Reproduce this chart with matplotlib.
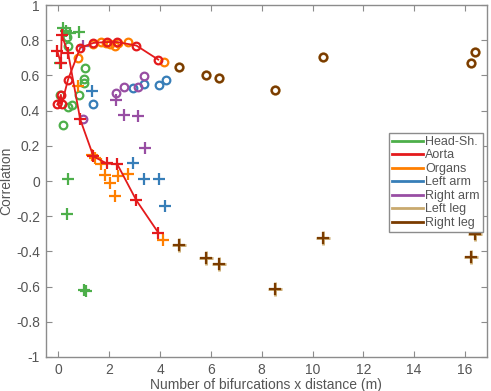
import matplotlib
matplotlib.use("Agg")
import matplotlib.pyplot as plt
from matplotlib.lines import Line2D

plt.rcParams['font.family'] = ['Liberation Sans', 'DejaVu Sans']

# ---- data ----
head_circ_x = [0.07, 0.20, 0.36, 0.55, 0.83, 1.06, 1.01, 1.01, 0.36, 0.33]
head_circ_y = [0.49, 0.316, 0.42, 0.43, 0.49, 0.64, 0.58, 0.56, 0.77, 0.82]
head_plus_x = [0.20, 0.30, 0.46, 0.83, 0.05, 0.36, 0.33, 1.01, 1.07]
head_plus_y = [0.87, 0.855, 0.84, 0.845, 0.67, 0.01, -0.185, -0.62, -0.625]

aorta_x = [-0.04, 0.10, 0.13, 0.38, 0.86, 1.38, 1.90, 2.32, 3.07, 3.93]
aorta_circ_y = [0.435, 0.49, 0.435, 0.577, 0.757, 0.785, 0.79, 0.79, 0.77, 0.69]
aorta_plus_y = [0.737, 0.67, 0.83, 0.73, 0.35, 0.14, 0.10, 0.095, -0.11, -0.293]

organs_circ_x = [0.77, 1.36, 1.67, 1.86, 2.03, 2.22, 2.36, 2.75, 4.16]
organs_circ_y = [0.70, 0.78, 0.79, 0.785, 0.78, 0.766, 0.785, 0.79, 0.677]
organs_plus_x = [0.77, 1.32, 1.45, 1.68, 1.84, 2.03, 2.23, 2.36, 2.74, 4.13]
organs_plus_y = [0.54, 0.146, 0.13, 0.095, 0.035, -0.01, -0.085, 0.03, 0.038, -0.335]

larm_circ_x = [1.36, 2.93, 3.38, 3.96, 4.23]
larm_circ_y = [0.435, 0.526, 0.55, 0.548, 0.577]
larm_plus_x = [1.31, 2.95, 3.38, 3.97, 4.19]
larm_plus_y = [0.51, 0.104, 0.01, 0.01, -0.142]

rarm_circ_x = [0.96, 2.27, 2.58, 3.15, 3.38]
rarm_circ_y = [0.354, 0.50, 0.533, 0.535, 0.595]
rarm_plus_x = [0.96, 2.27, 2.58, 3.15, 3.41]
rarm_plus_y = [0.765, 0.458, 0.375, 0.369, 0.19]

leg_x = [4.74, 5.81, 6.32, 8.54, 10.41, 16.25, 16.41]
leg_circ_y = [0.65, 0.605, 0.586, 0.52, 0.706, 0.668, 0.734]
leg_plus_y = [-0.363, -0.438, -0.472, -0.614, -0.321, -0.429, -0.302]

labels = ['Head-Sh.', 'Aorta', 'Organs', 'Left arm', 'Right arm', 'Left leg', 'Right leg']
colors = ['#4daf4a', '#e41a1c', '#ff7f00', '#377eb8', '#984ea3', '#c9a96e', '#7a3b00']

xticks = [0, 2, 4, 6, 8, 10, 12, 14, 16]
yticks = [-1, -0.8, -0.6, -0.4, -0.2, 0, 0.2, 0.4, 0.6, 0.8, 1]
ytick_labels = ['-1', '-0.8', '-0.6', '-0.4', '-0.2', '0', '0.2', '0.4', '0.6', '0.8', '1']

# ---- figure ----
fig = plt.figure(figsize=(4.91, 3.91), dpi=100)
ax = fig.add_axes([0.093, 0.087, 0.898, 0.900])

def draw(xc, yc, xp, yp, c, line=False):
    ls = '-' if line else 'none'
    ax.plot(xc, yc, color=c, marker='o', ms=5.5, mfc='none', mew=1.6, linestyle=ls, lw=1.3)
    ax.plot(xp, yp, color=c, marker='+', ms=9, mew=1.6, linestyle=ls, lw=1.3)

draw(head_circ_x, head_circ_y, head_plus_x, head_plus_y, colors[0])
draw(larm_circ_x, larm_circ_y, larm_plus_x, larm_plus_y, colors[3])
draw(rarm_circ_x, rarm_circ_y, rarm_plus_x, rarm_plus_y, colors[4])
draw(organs_circ_x, organs_circ_y, organs_plus_x, organs_plus_y, colors[2])
draw(aorta_x, aorta_circ_y, aorta_x, aorta_plus_y, colors[1], line=True)
# left leg drawn under right leg
ax.plot(leg_x, leg_circ_y, color=colors[5], marker='o', ms=5.5, mfc='none', mew=2.0, linestyle='none')
ax.plot(leg_x, leg_plus_y, color=colors[5], marker='+', ms=9.5, mew=2.0, linestyle='none')
draw(leg_x, leg_circ_y, leg_x, leg_plus_y, colors[6])

ax.set_xlim(-0.5, 16.85)
ax.set_ylim(-1, 1)
ax.set_xticks(xticks)
ax.set_yticks(yticks)
ax.set_yticklabels(ytick_labels)

gray = '#555555'
for s in ax.spines.values():
    s.set_color('#8c8c8c')
    s.set_linewidth(1.0)
ax.tick_params(direction='in', top=True, right=True, length=4, width=0.8,
               colors='#8c8c8c', labelcolor=gray, labelsize=10, pad=4)
ax.set_xlabel('Number of bifurcations x distance (m)', fontsize=10, color=gray, labelpad=1)
ax.set_ylabel('Correlation', fontsize=10, color=gray)
ax.yaxis.set_label_coords(-0.074, 0.5)

handles = [Line2D([0], [0], color=c, lw=2) for c in colors]
leg = ax.legend(handles, labels, loc='upper right', bbox_to_anchor=(0.992, 0.637),
                borderaxespad=0, fontsize=9, handlelength=2.5, handletextpad=0.2,
                labelspacing=0.12, borderpad=0.25, fancybox=False, framealpha=1,
                edgecolor='#8c8c8c')
leg.get_frame().set_linewidth(1.0)
for t in leg.get_texts():
    t.set_color(gray)

fig.savefig('out.png', dpi=100)
